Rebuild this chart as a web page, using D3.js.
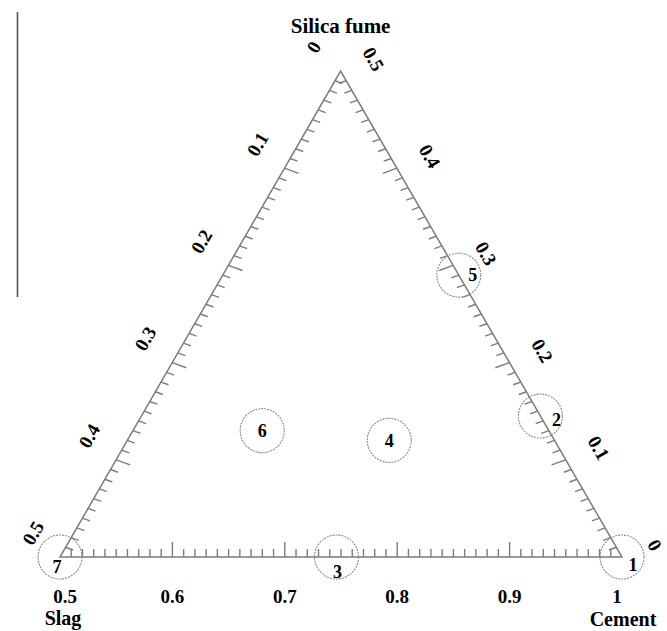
<!DOCTYPE html>
<html>
<head>
<meta charset="utf-8">
<script src="https://cdn.jsdelivr.net/npm/d3@7"></script>
<style>
  html, body { margin: 0; padding: 0; background: #fff; }
  svg { display: block; }
  text { font-family: "Liberation Serif", "Times New Roman", serif; font-weight: bold; fill: #000; }
</style>
</head>
<body>
<script>
// ---- data ----
const vertexNames = ["Slag", "Cement", "Silica fume"];
const cementTicks = [0.5, 0.6, 0.7, 0.8, 0.9, 1];
const cementTickLabels = ["0.5", "0.6", "0.7", "0.8", "0.9", "1"];
const slagTicks = [0, 0.1, 0.2, 0.3, 0.4, 0.5];
const slagTickLabels = ["0", "0.1", "0.2", "0.3", "0.4", "0.5"];
const silicaTicks = [0, 0.1, 0.2, 0.3, 0.4, 0.5];
const silicaTickLabels = ["0", "0.1", "0.2", "0.3", "0.4", "0.5"];

const pointLabels = ["1", "2", "3", "4", "5", "6", "7"];
const cement = [1.0, 0.855, 0.746, 0.733, 0.71, 0.615, 0.5];
const slag   = [0.0, 0.0,   0.254, 0.147, 0.0,  0.255, 0.5];
const silica = [0.0, 0.145, 0.0,   0.12,  0.29, 0.13,  0.0];

// ---- layout ----
const W = 667, H = 631;
const svg = d3.select("body").append("svg").attr("width", W).attr("height", H);

const xC = d3.scaleLinear().domain([0.5, 1]).range([60, 622]);   // cement along base
const yF = d3.scaleLinear().domain([0, 0.5]).range([557, 71]);   // silica fume height
const SQ3 = Math.sqrt(3);
function pos(c, f) {
  const y = yF(f);
  return [xC(c) + (yF(0) - y) / SQ3, y];
}

// decorative vertical line at left
svg.append("line").attr("x1", 17.5).attr("x2", 17.5).attr("y1", 12).attr("y2", 297)
  .attr("stroke", "#555").attr("stroke-width", 1.6);

const edgeColor = "#7c7c7c";
const g = svg.append("g");

// triangle
const T = pos(0.5, 0.5), BL = pos(0.5, 0), BR = pos(1, 0);
g.append("path")
  .attr("d", d3.line()([BL, BR, T, BL]) + "Z")
  .attr("fill", "none").attr("stroke", edgeColor).attr("stroke-width", 1.5);

// minor/major ticks
const fine = d3.range(1, 50).map(i => i / 100);
function isMajor(v) { return Math.abs(v * 10 - Math.round(v * 10)) < 1e-6; }

// bottom (cement): ticks point up
fine.forEach(d => {
  const v = 0.5 + d;
  const [x, y] = pos(v, 0);
  const L = isMajor(v) ? 15 : 8;
  g.append("line").attr("x1", x).attr("x2", x).attr("y1", y).attr("y2", y - L)
    .attr("stroke", edgeColor).attr("stroke-width", 1.4);
});
// left (slag): ticks point right, slightly down
const la = 20 * Math.PI / 180;
fine.forEach(d => {
  const s = d;
  const [x, y] = pos(0.5, 0.5 - s);
  const L = isMajor(s) ? 15 : 8;
  g.append("line").attr("x1", x).attr("y1", y)
    .attr("x2", x + L * Math.cos(la)).attr("y2", y + L * Math.sin(la))
    .attr("stroke", edgeColor).attr("stroke-width", 1.4);
});
// right (silica fume): ticks point left, slightly down
fine.forEach(d => {
  const f = d;
  const [x, y] = pos(1 - f, f);
  const L = isMajor(f) ? 15 : 8;
  g.append("line").attr("x1", x).attr("y1", y)
    .attr("x2", x - L * Math.cos(la)).attr("y2", y + L * Math.sin(la))
    .attr("stroke", edgeColor).attr("stroke-width", 1.4);
});

// tick labels
const tickFont = 19;
svg.append("g").selectAll("text").data(cementTicks).join("text")
  .attr("x", (d, i) => pos(d, 0)[0] + (i === 0 ? 5 : (i === cementTicks.length - 1 ? -5 : 0)))
  .attr("y", 603)
  .attr("text-anchor", "middle").attr("font-size", tickFont)
  .text((d, i) => cementTickLabels[i]);

svg.append("g").selectAll("text").data(slagTicks).join("text")
  .attr("transform", d => { const [x, y] = pos(0.5, 0.5 - d); return `translate(${x - 27},${y - 24}) rotate(-60)`; })
  .attr("text-anchor", "middle").attr("dy", "0.35em").attr("font-size", tickFont)
  .text((d, i) => slagTickLabels[i]);

svg.append("g").selectAll("text").data(silicaTicks).join("text")
  .attr("transform", d => { const [x, y] = pos(1 - d, d); return `translate(${x + 33},${y - 12}) rotate(60)`; })
  .attr("text-anchor", "middle").attr("dy", "0.35em").attr("font-size", tickFont)
  .text((d, i) => silicaTickLabels[i]);

// vertex names
const nameFont = 20;
svg.append("text").attr("x", T[0]).attr("y", 33).attr("text-anchor", "middle")
  .attr("font-size", 21).text(vertexNames[2]);
svg.append("text").attr("x", BL[0] + 3).attr("y", 625).attr("text-anchor", "middle")
  .attr("font-size", nameFont).text(vertexNames[0]);
svg.append("text").attr("x", BR[0] + 1).attr("y", 626).attr("text-anchor", "middle")
  .attr("font-size", nameFont).text(vertexNames[1]);

// points
const pts = pointLabels.map((l, i) => ({ label: l, c: cement[i], s: slag[i], f: silica[i] }));
const labelShift = { "1": [11, 8], "2": [16, 4], "3": [1, 15], "4": [0, 0], "5": [14, 0], "6": [0, 0], "7": [-3, 10] };

const pg = svg.append("g").selectAll("g").data(pts).join("g")
  .attr("transform", d => { const [x, y] = pos(d.c, d.f); return `translate(${x},${y})`; });
pg.append("circle").attr("r", 22).attr("fill", "none")
  .attr("stroke", "#8a8a8a").attr("stroke-width", 1.1).attr("stroke-dasharray", "2,1");
pg.append("text")
  .attr("x", d => labelShift[d.label][0]).attr("y", d => labelShift[d.label][1])
  .attr("text-anchor", "middle").attr("dy", "0.35em").attr("font-size", 18)
  .text(d => d.label);
</script>
</body>
</html>
